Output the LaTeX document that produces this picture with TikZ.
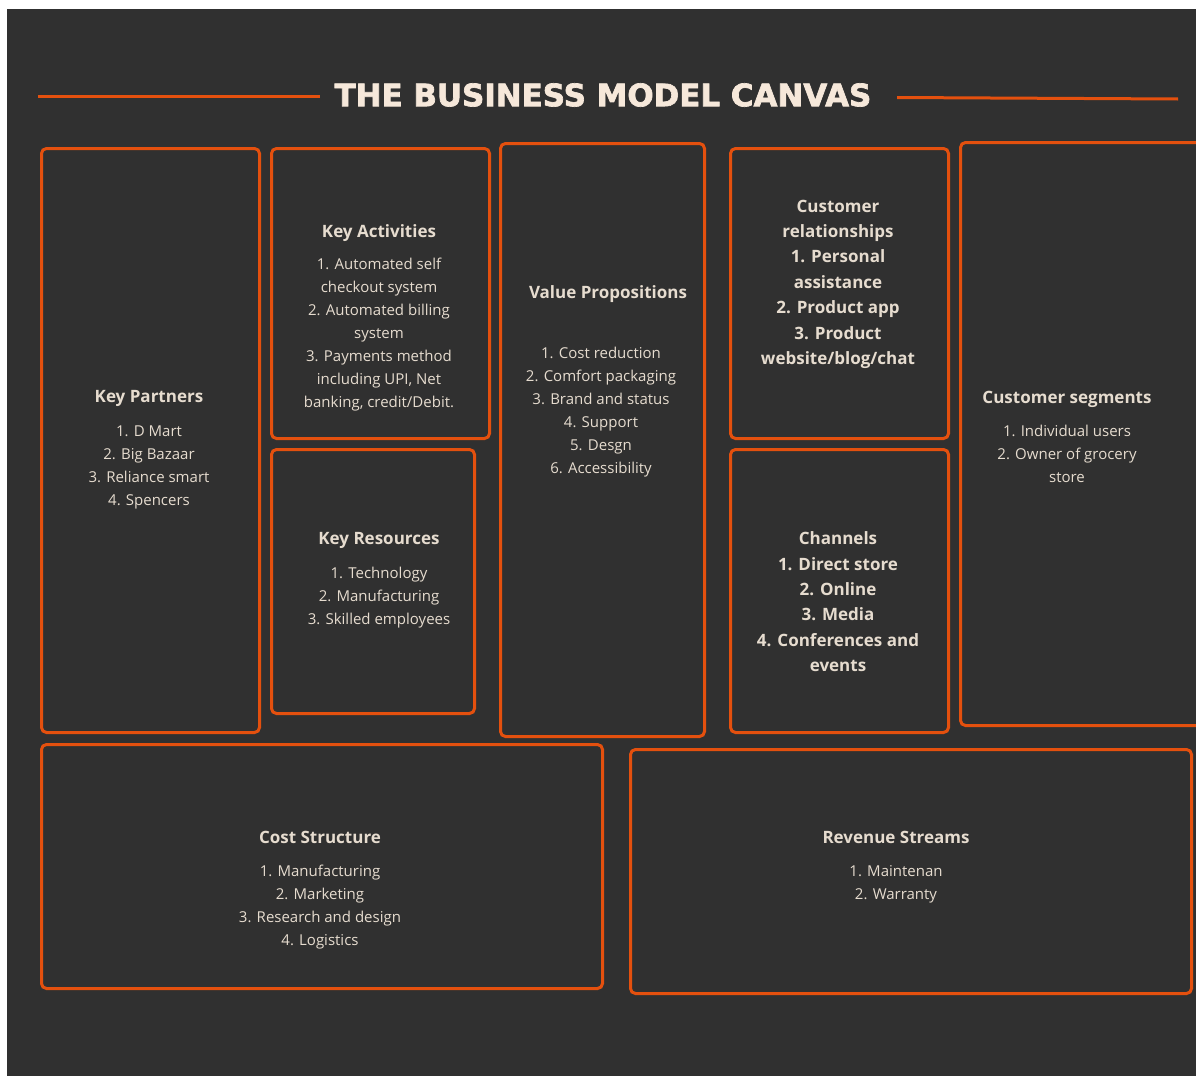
\documentclass[tikz,border=0pt]{standalone}
\usepackage{fontspec}
\setmainfont{Open Sans}
\newfontfamily\titlefont[BoldFeatures={FakeBold=2.2}]{DejaVu Sans}
\usetikzlibrary{positioning}
\definecolor{canvasbg}{HTML}{303030}
\definecolor{bmcorange}{HTML}{E4500E}
\definecolor{bmcink}{HTML}{E6DCCF}
\definecolor{titlecream}{HTML}{F6E8DA}
\tikzset{
  bmcbox/.style={draw=bmcorange, line width=3pt, rounded corners=5pt, anchor=north west, inner sep=0pt},
  headtxt/.style={text=bmcink, anchor=north, inner sep=0pt, align=center, font=\fontsize{17}{25.4}\selectfont\bfseries},
  listtxt/.style={text=bmcink, anchor=north, inner sep=0pt, align=center, font=\fontsize{15}{23}\selectfont},
  titlerule/.style={draw=bmcorange, line width=3pt}
}

\begin{document}
\begin{tikzpicture}[x=1pt, y=-1pt]
  % page and canvas
  \useasboundingbox (0,0) rectangle (1196,1076);
  \fill[white] (0,0) rectangle (1196,1076);
  \fill[canvasbg] (7,9) rectangle (1196,1076);

  % title
  \node (title) [text=titlecream, inner sep=0pt, font=\titlefont\fontsize{30.9}{31}\selectfont\bfseries] at (603,95) {THE BUSINESS MODEL CANVAS};
  \draw [titlerule] (38,96) -- (320,96);
  \draw [titlerule] (897,97.5) -- (1178,99);

  % boxes
  \node (kp) [bmcbox, minimum width=218pt, minimum height=584pt] at (40,147) {};
  \node (ka) [bmcbox, minimum width=218pt, minimum height=290pt] at (270,147) {};
  \node (kr) [bmcbox, minimum width=203pt, minimum height=264pt] at (270,448) {};
  \node (vp) [bmcbox, minimum width=204pt, minimum height=593pt] at (499,142) {};
  \node (cr) [bmcbox, minimum width=218pt, minimum height=290pt] at (729,147) {};
  \node (ch) [bmcbox, minimum width=218pt, minimum height=283pt] at (729,448) {};
  \node (cs) [bmcbox, minimum width=250pt, minimum height=583pt] at (959,141) {};
  \node (cost) [bmcbox, minimum width=561pt, minimum height=244pt] at (40,743) {};
  \node (rev) [bmcbox, minimum width=561pt, minimum height=244pt] at (629,748) {};

  % Key Partners
  \node (kphead) [headtxt] at (149,390.5) {Key Partners};
  \node (kplist) [listtxt] at (149,426) {1. D Mart\\2. Big Bazaar\\3. Reliance smart\\4. Spencers};

  % Key Activities
  \node (kahead) [headtxt] at (379,224.5) {Key Activities};
  \node (kalist) [listtxt] at (379,258) {1. Automated self\\checkout system\\2. Automated billing\\system\\3. Payments method\\including UPI, Net\\banking, credit/Debit.};

  % Key Resources
  \node (krhead) [headtxt] at (379,532.5) {Key Resources};
  \node (krlist) [listtxt] at (379,567) {1. Technology\\2. Manufacturing\\3. Skilled employees};

  % Value Propositions
  \node (vphead) [headtxt] at (608,285.5) {Value Propositions};
  \node (vplist) [listtxt] at (601,347) {1. Cost reduction\\2. Comfort packaging\\3. Brand and status\\4. Support\\5. Desgn\\6. Accessibility};

  % Customer relationships
  \node (crlist) [headtxt] at (838,199.5) {Customer\\relationships\\1. Personal\\assistance\\2. Product app\\3. Product\\website/blog/chat};

  % Channels
  \node (chlist) [headtxt] at (838,531.5) {Channels\\1. Direct store\\2. Online\\3. Media\\4. Conferences and\\events};

  % Customer segments
  \node (cshead) [headtxt] at (1067,390.5) {Customer segments};
  \node (cslist) [listtxt] at (1067,425) {1. Individual users\\2. Owner of grocery\\store};

  % Cost Structure
  \node (costhead) [headtxt] at (320,830.5) {Cost Structure};
  \node (costlist) [listtxt] at (320,865) {1. Manufacturing\\2. Marketing\\3. Research and design\\4. Logistics};

  % Revenue Streams
  \node (revhead) [headtxt] at (896,830.5) {Revenue Streams};
  \node (revlist) [listtxt] at (896,865) {1. Maintenan\\2. Warranty};
\end{tikzpicture}
\end{document}
